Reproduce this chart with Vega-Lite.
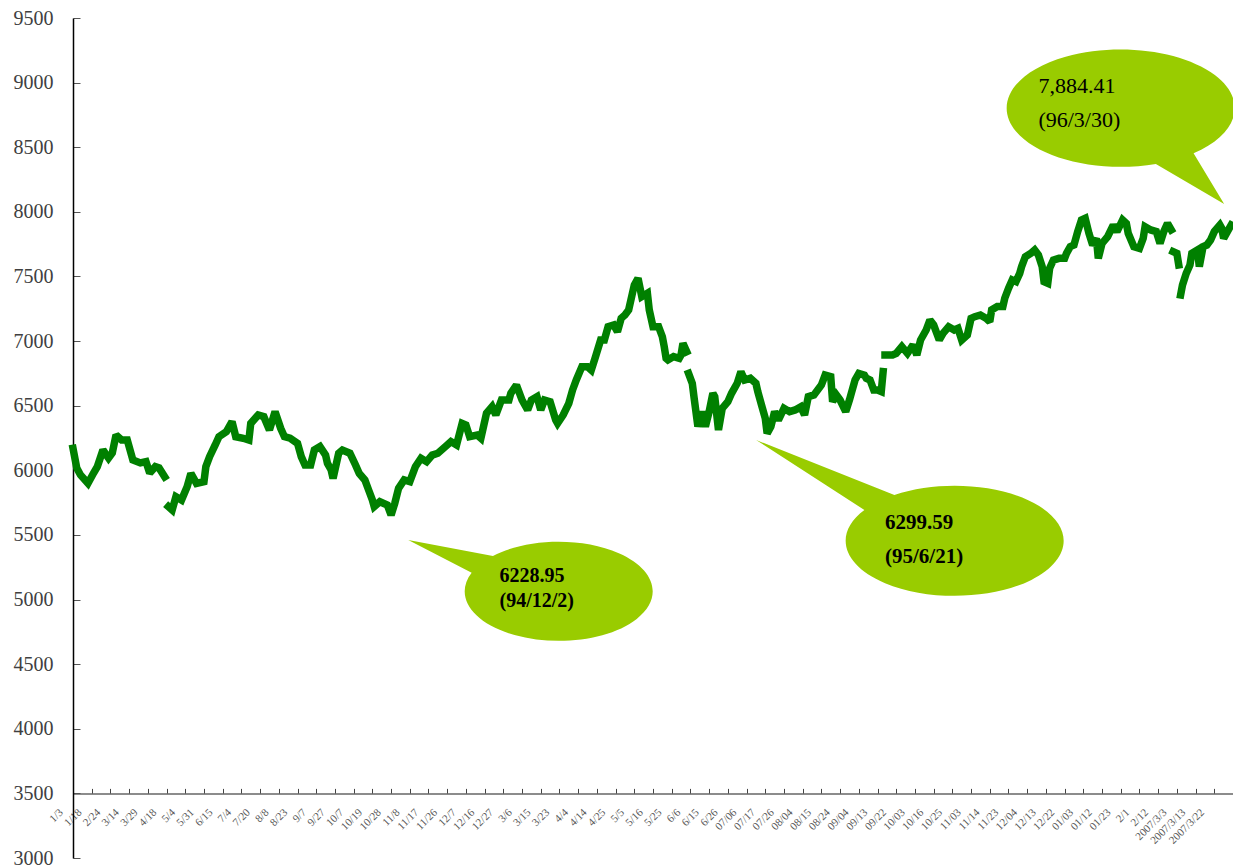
{
  "$schema": "https://vega.github.io/schema/vega-lite/v6.json",
  "autosize": "none",
  "width": 1160,
  "height": 840,
  "padding": {"left": 73, "top": 18, "right": 0, "bottom": 10},
  "background": "white",
  "config": {"view": {"stroke": null}},
  "datasets": {
    "price": [
      {"d":0,"v":6170,"s":1},{"d":2,"v":6018,"s":1},{"d":4,"v":5964,"s":1},{"d":8,"v":5899,"s":1},{"d":11,"v":5979,"s":1},{"d":13,"v":6028,"s":1},{"d":16,"v":6157,"s":1},{"d":19,"v":6095,"s":1},{"d":21,"v":6134,"s":1},{"d":23,"v":6273,"s":1},{"d":26,"v":6234,"s":1},{"d":29,"v":6234,"s":1},{"d":32,"v":6080,"s":1},{"d":36,"v":6057,"s":1},{"d":39,"v":6067,"s":1},{"d":41,"v":5979,"s":1},{"d":44,"v":6028,"s":1},{"d":46,"v":6018,"s":1},{"d":49,"v":5950,"s":1},
      {"d":51,"v":5719,"s":2},{"d":53,"v":5693,"s":2},{"d":55,"v":5796,"s":2},{"d":58,"v":5770,"s":2},{"d":61,"v":5873,"s":2},{"d":63,"v":5976,"s":2},{"d":66,"v":5899,"s":2},{"d":70,"v":5912,"s":2},{"d":71,"v":6028,"s":2},{"d":73,"v":6106,"s":2},{"d":76,"v":6196,"s":2},{"d":78,"v":6260,"s":2},{"d":82,"v":6299,"s":2},{"d":85,"v":6376,"s":2},{"d":87,"v":6260,"s":2},{"d":91,"v":6248,"s":2},{"d":94,"v":6234,"s":2},{"d":95,"v":6363,"s":2},{"d":99,"v":6428,"s":2},{"d":102,"v":6415,"s":2},{"d":105,"v":6312,"s":2},{"d":108,"v":6454,"s":2},{"d":111,"v":6325,"s":2},{"d":113,"v":6260,"s":2},{"d":116,"v":6248,"s":2},{"d":120,"v":6209,"s":2},{"d":122,"v":6106,"s":2},{"d":124,"v":6041,"s":2},{"d":127,"v":6041,"s":2},{"d":129,"v":6157,"s":2},{"d":132,"v":6183,"s":2},{"d":135,"v":6118,"s":2},{"d":136,"v":6054,"s":2},{"d":138,"v":6002,"s":2},{"d":139,"v":5938,"s":2},{"d":142,"v":6132,"s":2},{"d":144,"v":6157,"s":2},{"d":148,"v":6132,"s":2},{"d":151,"v":6041,"s":2},{"d":153,"v":5976,"s":2},{"d":156,"v":5925,"s":2},{"d":158,"v":5848,"s":2},{"d":160,"v":5770,"s":2},{"d":161,"v":5719,"s":2},{"d":164,"v":5757,"s":2},{"d":168,"v":5732,"s":2},{"d":170,"v":5654,"s":2},{"d":172,"v":5745,"s":2},{"d":174,"v":5861,"s":2},{"d":177,"v":5925,"s":2},{"d":180,"v":5912,"s":2},{"d":183,"v":6028,"s":2},{"d":186,"v":6093,"s":2},{"d":189,"v":6067,"s":2},{"d":192,"v":6118,"s":2},{"d":195,"v":6132,"s":2},{"d":200,"v":6196,"s":2},{"d":202,"v":6222,"s":2},{"d":205,"v":6196,"s":2},{"d":208,"v":6363,"s":2},{"d":210,"v":6351,"s":2},{"d":212,"v":6260,"s":2},{"d":216,"v":6273,"s":2},{"d":218,"v":6248,"s":2},{"d":221,"v":6441,"s":2},{"d":224,"v":6492,"s":2},{"d":226,"v":6428,"s":2},{"d":229,"v":6544,"s":2},{"d":233,"v":6544,"s":2},{"d":234,"v":6596,"s":2},{"d":237,"v":6660,"s":2},{"d":240,"v":6544,"s":2},{"d":243,"v":6467,"s":2},{"d":245,"v":6544,"s":2},{"d":248,"v":6570,"s":2},{"d":250,"v":6467,"s":2},{"d":252,"v":6544,"s":2},{"d":255,"v":6531,"s":2},{"d":258,"v":6389,"s":2},{"d":259,"v":6363,"s":2},{"d":262,"v":6428,"s":2},{"d":265,"v":6518,"s":2},{"d":267,"v":6621,"s":2},{"d":269,"v":6699,"s":2},{"d":272,"v":6802,"s":2},{"d":275,"v":6802,"s":2},{"d":277,"v":6776,"s":2},{"d":279,"v":6867,"s":2},{"d":282,"v":7008,"s":2},{"d":284,"v":7008,"s":2},{"d":286,"v":7111,"s":2},{"d":289,"v":7125,"s":2},{"d":291,"v":7073,"s":2},{"d":293,"v":7176,"s":2},{"d":295,"v":7202,"s":2},{"d":297,"v":7241,"s":2},{"d":299,"v":7370,"s":2},{"d":300,"v":7434,"s":2},{"d":302,"v":7486,"s":2},{"d":304,"v":7344,"s":2},{"d":307,"v":7370,"s":2},{"d":308,"v":7241,"s":2},{"d":310,"v":7111,"s":2},{"d":313,"v":7111,"s":2},{"d":315,"v":7034,"s":2},{"d":316,"v":6957,"s":2},{"d":317,"v":6867,"s":2},{"d":318,"v":6854,"s":2},{"d":321,"v":6880,"s":2},{"d":324,"v":6867,"s":2},{"d":325,"v":6893,"s":2},{"d":326,"v":6983,"s":2},{"d":328,"v":6918,"s":2},
      {"d":329,"v":6750,"s":3},{"d":331,"v":6673,"s":3},{"d":332,"v":6557,"s":3},{"d":334,"v":6338,"s":3},{"d":336,"v":6454,"s":3},{"d":338,"v":6338,"s":3},{"d":340,"v":6454,"s":3},{"d":342,"v":6596,"s":3},{"d":343,"v":6570,"s":3},{"d":345,"v":6312,"s":3},{"d":347,"v":6480,"s":3},{"d":350,"v":6531,"s":3},{"d":352,"v":6596,"s":3},{"d":355,"v":6673,"s":3},{"d":357,"v":6763,"s":3},{"d":359,"v":6699,"s":3},{"d":362,"v":6712,"s":3},{"d":365,"v":6673,"s":3},{"d":366,"v":6609,"s":3},{"d":368,"v":6505,"s":3},{"d":370,"v":6402,"s":3},{"d":371,"v":6286,"s":3},{"d":373,"v":6338,"s":3},{"d":375,"v":6454,"s":3},{"d":377,"v":6389,"s":3},{"d":380,"v":6480,"s":3},{"d":383,"v":6454,"s":3},{"d":386,"v":6467,"s":3},{"d":389,"v":6492,"s":3},{"d":391,"v":6428,"s":3},{"d":393,"v":6570,"s":3},{"d":396,"v":6583,"s":3},{"d":398,"v":6621,"s":3},{"d":400,"v":6660,"s":3},{"d":402,"v":6737,"s":3},{"d":405,"v":6725,"s":3},{"d":406,"v":6531,"s":3},{"d":408,"v":6583,"s":3},{"d":410,"v":6544,"s":3},{"d":413,"v":6454,"s":3},{"d":415,"v":6544,"s":3},{"d":416,"v":6596,"s":3},{"d":418,"v":6699,"s":3},{"d":420,"v":6750,"s":3},{"d":423,"v":6737,"s":3},{"d":424,"v":6712,"s":3},{"d":426,"v":6699,"s":3},{"d":428,"v":6621,"s":3},{"d":430,"v":6621,"s":3},{"d":432,"v":6609,"s":3},{"d":433,"v":6763,"s":3},
      {"d":434,"v":6892,"s":4},{"d":438,"v":6892,"s":4},{"d":440,"v":6905,"s":4},{"d":443,"v":6957,"s":4},{"d":446,"v":6905,"s":4},{"d":449,"v":6970,"s":4},{"d":451,"v":6892,"s":4},{"d":453,"v":7008,"s":4},{"d":456,"v":7086,"s":4},{"d":458,"v":7163,"s":4},{"d":460,"v":7125,"s":4},{"d":463,"v":7008,"s":4},{"d":465,"v":7060,"s":4},{"d":468,"v":7111,"s":4},{"d":471,"v":7086,"s":4},{"d":473,"v":7099,"s":4},{"d":475,"v":7008,"s":4},{"d":478,"v":7047,"s":4},{"d":480,"v":7176,"s":4},{"d":482,"v":7189,"s":4},{"d":485,"v":7202,"s":4},{"d":488,"v":7176,"s":4},{"d":490,"v":7150,"s":4},{"d":491,"v":7241,"s":4},{"d":494,"v":7267,"s":4},{"d":497,"v":7267,"s":4},{"d":498,"v":7331,"s":4},{"d":500,"v":7408,"s":4},{"d":502,"v":7473,"s":4},{"d":504,"v":7460,"s":4},{"d":506,"v":7524,"s":4},{"d":507,"v":7576,"s":4},{"d":509,"v":7653,"s":4},{"d":512,"v":7679,"s":4},{"d":514,"v":7705,"s":4},{"d":516,"v":7666,"s":4},{"d":518,"v":7576,"s":4},{"d":519,"v":7460,"s":4},{"d":521,"v":7447,"s":4},{"d":522,"v":7563,"s":4},{"d":524,"v":7627,"s":4},{"d":527,"v":7640,"s":4},{"d":530,"v":7640,"s":4},{"d":531,"v":7679,"s":4},{"d":533,"v":7731,"s":4},{"d":535,"v":7743,"s":4},{"d":537,"v":7847,"s":4},{"d":539,"v":7937,"s":4},{"d":541,"v":7950,"s":4},{"d":543,"v":7834,"s":4},{"d":545,"v":7743,"s":4},{"d":547,"v":7795,"s":4},{"d":548,"v":7640,"s":4},{"d":550,"v":7756,"s":4},{"d":553,"v":7808,"s":4},{"d":556,"v":7898,"s":4},{"d":558,"v":7847,"s":4},{"d":561,"v":7937,"s":4},{"d":563,"v":7911,"s":4},{"d":564,"v":7834,"s":4},{"d":567,"v":7731,"s":4},{"d":570,"v":7718,"s":4},{"d":572,"v":7795,"s":4},{"d":573,"v":7885,"s":4},{"d":576,"v":7860,"s":4},{"d":579,"v":7847,"s":4},{"d":581,"v":7756,"s":4},{"d":583,"v":7847,"s":4},{"d":585,"v":7911,"s":4},{"d":587,"v":7860,"s":4},
      {"d":588,"v":7692,"s":5},{"d":590,"v":7679,"s":5},{"d":591,"v":7589,"s":5},
      {"d":592,"v":7357,"s":6},{"d":593,"v":7434,"s":6},{"d":595,"v":7524,"s":6},{"d":597,"v":7589,"s":6},{"d":598,"v":7679,"s":6},{"d":601,"v":7705,"s":6},{"d":602,"v":7576,"s":6},{"d":604,"v":7731,"s":6},{"d":606,"v":7743,"s":6},{"d":608,"v":7782,"s":6},{"d":610,"v":7847,"s":6},{"d":613,"v":7898,"s":6},{"d":614,"v":7872,"s":6},{"d":615,"v":7795,"s":6},{"d":617,"v":7847,"s":6},{"d":619,"v":7898,"s":6}
    ],
    "bubbles": [
      {"b":"a","d":260,"v":5055},
      {"b":"b","d":472,"v":5453},
      {"b":"c","d":559,"v":8804}
    ],
    "notes": [
      {"g":"a","d":228,"v":5138,"t":"6228.95"},
      {"g":"a","d":228,"v":4942,"t":"(94/12/2)"},
      {"g":"b","d":434,"v":5546,"t":"6299.59"},
      {"g":"b","d":434,"v":5285,"t":"(95/6/21)"},
      {"g":"c","d":516,"v":8917,"t":"7,884.41"},
      {"g":"c","d":516,"v":8654,"t":"(96/3/30)"}
    ]
  },
  "encoding": {
    "x": {
      "field": "d", "type": "quantitative",
      "scale": {"domain": [0, 620], "nice": false, "zero": false},
      "axis": {
        "title": null,
        "values": [0,10,20,30,40,50,60,70,80,90,100,110,120,130,140,150,160,170,180,190,200,210,220,230,240,250,260,270,280,290,300,310,320,330,340,350,360,370,380,390,400,410,420,430,440,450,460,470,480,490,500,510,520,530,540,550,560,570,580,590,600,610,620],
        "offset": -64.6,
        "grid": false,
        "domainColor": "#666666", "domainWidth": 1.5,
        "tickColor": "#444444", "tickSize": -5, "tickWidth": 1,
        "labelAngle": -45, "labelAlign": "right", "labelBaseline": "middle",
        "labelFont": "Liberation Serif", "labelFontSize": 11, "labelColor": "#555555",
        "labelOffset": -12, "labelPadding": 22,
        "labelFlush": false, "labelOverlap": false, "labelBound": false,
        "labelExpr": "datum.value < 620 ? ['1/3','1/18','2/24','3/14','3/29','4/18','5/4','5/31','6/15','7/4','7/20','8/8','8/23','9/7','9/27','10/7','10/19','10/28','11/8','11/17','11/26','12/7','12/16','12/27','3/6','3/15','3/23','4/4','4/14','4/25','5/5','5/16','5/25','6/6','6/15','6/26','07/06','07/17','07/26','08/04','08/15','08/24','09/04','09/13','09/22','10/03','10/16','10/25','11/03','11/14','11/23','12/04','12/13','12/22','01/03','01/12','01/23','2/1','2/12','2007/3/3','2007/3/13','2007/3/22'][round(datum.value / 10)] : ''"
      }
    },
    "y": {
      "field": "v", "type": "quantitative",
      "scale": {"domain": [3000, 9500], "nice": false, "zero": false},
      "axis": {
        "title": null,
        "values": [3000,3500,4000,4500,5000,5500,6000,6500,7000,7500,8000,8500,9000,9500],
        "format": "d",
        "grid": false,
        "domainColor": "#000000", "domainWidth": 1.5,
        "tickColor": "#555555", "tickSize": -7,
        "labelFont": "Liberation Serif", "labelFontSize": 20, "labelColor": "#404040",
        "labelPadding": 27, "labelFlush": false, "labelOverlap": false
      }
    }
  },
  "layer": [
    {
      "data": {"name": "price"},
      "mark": {"type": "line", "color": "#008000", "strokeWidth": 7.5, "strokeCap": "square", "strokeJoin": "miter", "strokeMiterLimit": 2},
      "encoding": {"detail": {"field": "s", "type": "nominal"}}
    },
    {
      "data": {"name": "bubbles"},
      "mark": {"type": "point", "filled": true, "fill": "#99CC00", "opacity": 1, "strokeWidth": 0, "size": 40000},
      "encoding": {
        "shape": {
          "field": "b", "type": "nominal", "legend": null,
          "scale": {
            "domain": ["a", "b", "c"],
            "range": [
              "M -0.665 -0.365 L -1.512 -0.525 L -0.878 -0.198 A 0.94 0.495 0 1 0 -0.665 -0.365 Z",
              "M -0.617 -0.46 L -2.0 -1.01 L -0.917 -0.31 A 1.09 0.55 0 1 0 -0.617 -0.46 Z",
              "M 0.747 0.453 L 1.053 0.96 L 0.37 0.56 A 1.14 0.587 0 1 1 0.747 0.453 Z"
            ]
          }
        }
      }
    },
    {
      "data": {"name": "notes"},
      "transform": [{"filter": "datum.g === 'a'"}],
      "mark": {"type": "text", "align": "left", "baseline": "alphabetic", "font": "Liberation Serif", "fontWeight": "bold", "fontSize": 20, "color": "#000000"},
      "encoding": {"text": {"field": "t"}}
    },
    {
      "data": {"name": "notes"},
      "transform": [{"filter": "datum.g === 'b'"}],
      "mark": {"type": "text", "align": "left", "baseline": "alphabetic", "font": "Liberation Serif", "fontWeight": "bold", "fontSize": 21, "color": "#000000"},
      "encoding": {"text": {"field": "t"}}
    },
    {
      "data": {"name": "notes"},
      "transform": [{"filter": "datum.g === 'c'"}],
      "mark": {"type": "text", "align": "left", "baseline": "alphabetic", "font": "Liberation Serif", "fontWeight": "normal", "fontSize": 22, "color": "#000000"},
      "encoding": {"text": {"field": "t"}}
    }
  ]
}
